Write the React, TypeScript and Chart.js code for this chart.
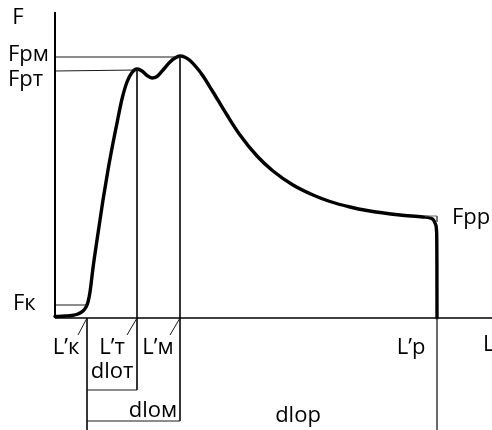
import React, { useEffect, useRef } from "react";
import { Chart, registerables } from "chart.js";

Chart.register(...registerables);

// Force–elongation curve (arbitrary units: L along the axis, F up)
const curveL = [0, 10, 17, 23, 28, 31, 33, 35, 38, 42, 48, 53, 58, 63, 67, 72, 77, 82, 87, 92, 97, 102, 108, 115, 120, 125, 130, 135, 142, 148, 158, 172, 185, 202, 218, 238, 258, 275, 295, 312, 345, 368, 375, 378.5, 380.8, 381.6, 381.9, 382];
const curveF = [1.5, 2, 2.5, 4, 7, 11, 16, 26, 50, 78, 118, 148, 175, 200, 219, 236, 245.5, 249, 247, 242.5, 240, 241.5, 248, 256, 260, 262, 260.8, 257.5, 250, 242, 226, 203, 183, 162, 147, 133, 123, 116.5, 111, 107.5, 103, 101, 100, 98, 93, 86, 58, 0];

// Characteristic points
const pointL = { k: 32, t: 82, m: 125, p: 382 };
const pointF = { k: 13, t: 247, m: 261, p: 102 };
const axisTopF = 306;
const axisEndL = 437;
const dloTLevel = -72;
const dloMLevel = -103;
const bottomLevel = -112;

// Text labels
const labelTexts = ["F", "Fpм", "Fpт", "Fк", "Fpp", "L’к", "L’т", "L’м", "L’p", "L", "dloт", "dloм", "dlop"];
const labelX = [-37, -47, -47, -42, 397, 11, 57, 103, 356, 428, 57, 98, 243];
const labelY = [300, 263, 238, 14, 100, -30, -30, -30, -30, -27, -54, -93, -98];
const labelAlign = ["center", "left", "left", "left", "left", "center", "center", "center", "center", "left", "center", "center", "center"];

type P = { x: number; y: number };

function seg(points: P[], width: number, color: string) {
  return {
    type: "line" as const,
    data: points,
    borderColor: color,
    borderWidth: width,
    pointRadius: 0,
    tension: 0,
    fill: false,
  };
}

export default function App() {
  const ref = useRef<HTMLCanvasElement | null>(null);

  useEffect(() => {
    if (!ref.current) return;
    const curve = curveL.map((x, i) => ({ x, y: curveF[i] }));
    const thin = "#1a1a1a";
    const datasets: any[] = [
      seg([{ x: 0, y: 0 }, { x: 0, y: axisTopF }], 2, "#000"),
      seg([{ x: 0, y: 0 }, { x: axisEndL, y: 0 }], 1.5, "#000"),
      seg([{ x: 0, y: pointF.m }, { x: pointL.m, y: pointF.m }], 1, thin),
      seg([{ x: 0, y: pointF.t }, { x: pointL.t, y: pointF.t + 1 }], 1, thin),
      seg([{ x: 0, y: pointF.k }, { x: pointL.k, y: pointF.k }], 1, thin),
      seg([{ x: pointL.k, y: 0 }, { x: pointL.k, y: bottomLevel }], 1, thin),
      seg([{ x: pointL.t, y: pointF.t + 1 }, { x: pointL.t, y: dloTLevel }], 1, thin),
      seg([{ x: pointL.m, y: pointF.m }, { x: pointL.m, y: dloMLevel }], 1, thin),
      seg([{ x: pointL.p, y: 0 }, { x: pointL.p, y: bottomLevel }], 1, "#555"),
      seg([{ x: pointL.k, y: dloTLevel }, { x: pointL.t, y: dloTLevel }], 1, thin),
      seg([{ x: pointL.k, y: dloMLevel }, { x: pointL.m, y: dloMLevel }], 1, thin),
      seg([{ x: pointL.k, y: 0 }, { x: pointL.k - 9, y: -17 }], 1, thin),
      seg([{ x: pointL.t, y: 0 }, { x: pointL.t - 10, y: -17 }], 1, thin),
      seg([{ x: pointL.m, y: 0 }, { x: pointL.m - 10, y: -17 }], 1, thin),
      seg([{ x: pointL.p - 12, y: pointF.p }, { x: pointL.p, y: pointF.p }, { x: pointL.p, y: pointF.p - 6 }], 1, "#666"),
      {
        type: "line",
        data: curve,
        borderColor: "#000",
        borderWidth: 3.4,
        pointRadius: 0,
        cubicInterpolationMode: "monotone",
        fill: false,
        borderCapStyle: "round",
        borderJoinStyle: "round",
      },
    ];

    const labelsPlugin = {
      id: "labels",
      afterDraw(chart: any) {
        const ctx = chart.ctx;
        const xs = chart.scales.x;
        const ys = chart.scales.y;
        ctx.save();
        ctx.fillStyle = "#000";
        ctx.font = '22px "Open Sans", sans-serif';
        ctx.textBaseline = "middle";
        labelTexts.forEach((t, i) => {
          ctx.textAlign = labelAlign[i];
          ctx.fillText(t, xs.getPixelForValue(labelX[i]), ys.getPixelForValue(labelY[i]));
        });
        ctx.restore();
      },
    };

    const chart = new Chart(ref.current, {
      type: "line",
      data: { datasets },
      options: {
        animation: false,
        responsive: false,
        maintainAspectRatio: false,
        layout: { padding: 0 },
        parsing: false as any,
        plugins: { legend: { display: false }, tooltip: { enabled: false } },
        scales: {
          x: { type: "linear", min: -55, max: 437, display: false },
          y: { type: "linear", min: bottomLevel, max: 318, display: false },
        },
        elements: { line: { clip: false } as any },
      },
      plugins: [labelsPlugin],
    });
    return () => chart.destroy();
  }, []);

  return (
    <div style={{ position: "fixed", left: 0, top: 0, width: 492, height: 430, background: "#fff" }}>
      <canvas ref={ref} width={492} height={430} style={{ width: 492, height: 430 }} />
    </div>
  );
}
